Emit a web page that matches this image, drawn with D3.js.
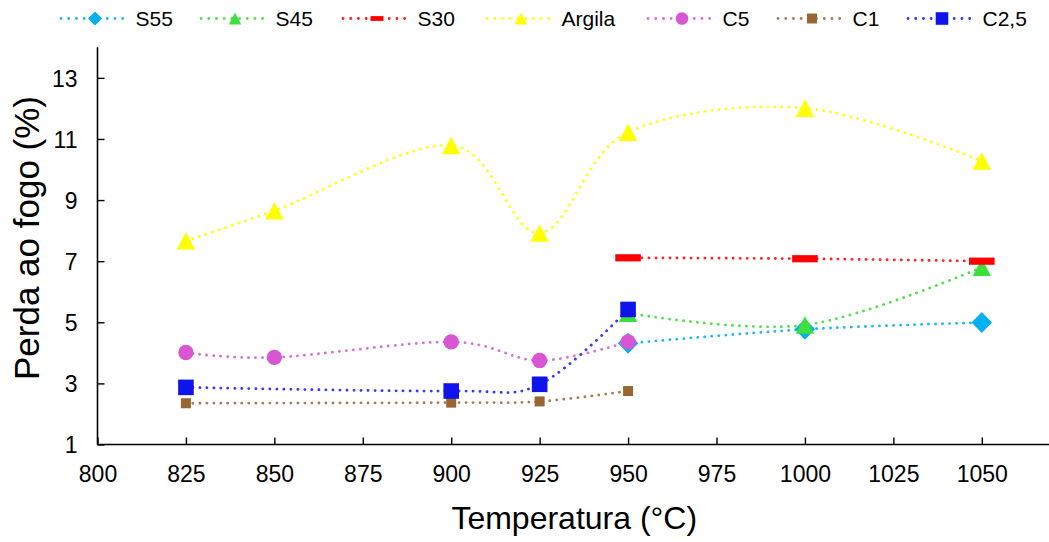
<!DOCTYPE html>
<html>
<head>
<meta charset="utf-8">
<script src="https://cdn.jsdelivr.net/npm/d3@7"></script>
<style>
  html, body { margin: 0; padding: 0; background: #fff; }
  svg { display: block; font-family: "Liberation Sans", Arial, sans-serif; }
</style>
</head>
<body>
<svg id="chart" width="1049" height="542"></svg>
<script>
// ---- data ----
const temps = [825, 850, 900, 925, 950, 1000, 1050];
const s55    = [null, null, null, null, 4.31, 4.77, 4.99];
const s45    = [null, null, null, null, 5.30, 4.91, 6.80];
const s30    = [null, null, null, null, 7.11, 7.08, 7.00];
const argila = [7.67, 8.65, 10.79, 7.92, 11.22, 12.01, 10.28];
const c5     = [4.01, 3.85, 4.36, 3.75, 4.36, null, null];
const c1     = [2.35, null, 2.37, 2.41, 2.75, null, null];
const c25    = [2.87, null, 2.75, 2.97, 5.42, null, null];
const seriesNames = ["S55", "S45", "S30", "Argila", "C5", "C1", "C2,5"];
const xTicks = [800, 825, 850, 875, 900, 925, 950, 975, 1000, 1025, 1050];
const yTicks = [1, 3, 5, 7, 9, 11, 13];
const xTitle = "Temperatura (°C)";
const yTitle = "Perda ao fogo (%)";

// ---- styles ----
const styles = [
  { values: s55,    color: "#00B0F0", line: "#1FB8F0", marker: "diamond" },
  { values: s45,    color: "#3CE03C", line: "#50E050", marker: "triangle" },
  { values: s30,    color: "#FF0000", line: "#FF2020", marker: "dash" },
  { values: argila, color: "#FFFF00", line: "#FFFF10", marker: "triangle" },
  { values: c5,     color: "#D856D4", line: "#D870D8", marker: "circle" },
  { values: c1,     color: "#996633", line: "#A87F55", marker: "smallsquare" },
  { values: c25,    color: "#1014EC", line: "#3838F0", marker: "square" }
];

const svg = d3.select("#chart");
const x = d3.scaleLinear().domain([800, 1069]).range([97.5, 1049]);
const y = d3.scaleLinear().domain([1, 14]).range([444.5, 47.3]);

function markerPath(type, big) {
  const p = d3.path();
  if (type === "diamond") {
    const w = big ? 10.2 : 7, h = big ? 10.5 : 7;
    p.moveTo(0, -h); p.lineTo(w, 0); p.lineTo(0, h); p.lineTo(-w, 0); p.closePath();
  } else if (type === "triangle") {
    const w = big ? 9.2 : 6.2, h = big ? 8.8 : 6;
    p.moveTo(0, -h); p.lineTo(w, h); p.lineTo(-w, h); p.closePath();
  } else if (type === "dash") {
    const w = big ? 12.8 : 6.5, h = big ? 3.6 : 2.4;
    p.rect(-w, -h, 2 * w, 2 * h);
  } else if (type === "circle") {
    const r = big ? 7.7 : 6.3;
    p.arc(0, 0, r, 0, 2 * Math.PI);
  } else if (type === "square") {
    const s = big ? 7.8 : 6.3;
    p.rect(-s, -s, 2 * s, 2 * s);
  } else if (type === "smallsquare") {
    const s = 5;
    p.rect(-s, -s, 2 * s, 2 * s);
  }
  return p.toString();
}

// ---- axes ----
const axisColor = "#000";
const xAxis = d3.axisBottom(x).tickValues(xTicks).tickSize(-7).tickPadding(0).tickFormat(d3.format("d"));
const gx = svg.append("g").attr("transform", `translate(0,${y(1)})`).call(xAxis);
gx.select(".domain").attr("d", `M${x(800)},0H1049`).attr("stroke", axisColor).attr("stroke-width", 1.6);
gx.selectAll(".tick line").attr("stroke", axisColor).attr("stroke-width", 1.4);
gx.selectAll(".tick text").attr("y", 37).attr("dy", null).attr("font-size", 23).attr("fill", "#000")
  .attr("font-family", "'Liberation Sans', Arial, sans-serif");

const yAxis = d3.axisLeft(y).tickValues(yTicks).tickSize(-7).tickPadding(0).tickFormat(d3.format("d"));
const gy = svg.append("g").attr("transform", `translate(${x(800)},0)`).call(yAxis);
gy.select(".domain").attr("d", `M0,${y(14)}V${y(1)}`).attr("stroke", axisColor).attr("stroke-width", 1.6);
gy.selectAll(".tick line").attr("stroke", axisColor).attr("stroke-width", 1.4);
gy.selectAll(".tick text").attr("x", -20).attr("dy", "0.36em").attr("font-size", 23).attr("fill", "#000")
  .attr("font-family", "'Liberation Sans', Arial, sans-serif");

svg.append("text").attr("x", (x(800) + 1049) / 2 + 1).attr("y", 529)
  .attr("text-anchor", "middle").attr("font-size", 32).attr("fill", "#000").text(xTitle);
svg.append("text").attr("transform", `translate(39,238) rotate(-90)`)
  .attr("text-anchor", "middle").attr("font-size", 35).attr("fill", "#000").text(yTitle);

// ---- series ----
const line = d3.line().x(d => x(d.t)).y(d => y(d.v)).curve(d3.curveCardinal.tension(0));
styles.forEach((s, i) => {
  const pts = temps.map((t, j) => ({ t, v: s.values[j] })).filter(d => d.v !== null);
  const g = svg.append("g");
  g.append("path").datum(pts).attr("d", line).attr("fill", "none")
    .attr("stroke", s.line).attr("stroke-width", 2.8)
    .attr("stroke-linecap", "round").attr("stroke-dasharray", "0.1,6.9");
  g.selectAll("path.m").data(pts).join("path").attr("class", "m")
    .attr("transform", d => `translate(${x(d.t)},${y(d.v)})`)
    .attr("d", markerPath(s.marker, true)).attr("fill", s.color);
});

// ---- legend ----
const legX = [60, 200, 342, 486, 647, 777, 907];
const legY = 18.5;
seriesNames.forEach((name, i) => {
  const s = styles[i];
  const g = svg.append("g").attr("transform", `translate(${legX[i]},${legY})`);
  g.append("line").attr("x1", 1).attr("x2", 65).attr("y1", 0).attr("y2", 0)
    .attr("stroke", s.line).attr("stroke-width", 2.8).attr("stroke-linecap", "round")
    .attr("stroke-dasharray", "0.1,7.6");
  g.append("path").attr("transform", "translate(35,0)").attr("d", markerPath(s.marker, false)).attr("fill", s.color);
  g.append("text").attr("x", 75.5).attr("y", 0).attr("dy", "0.36em").attr("font-size", 21)
    .attr("fill", "#000").text(name);
});
</script>
</body>
</html>
